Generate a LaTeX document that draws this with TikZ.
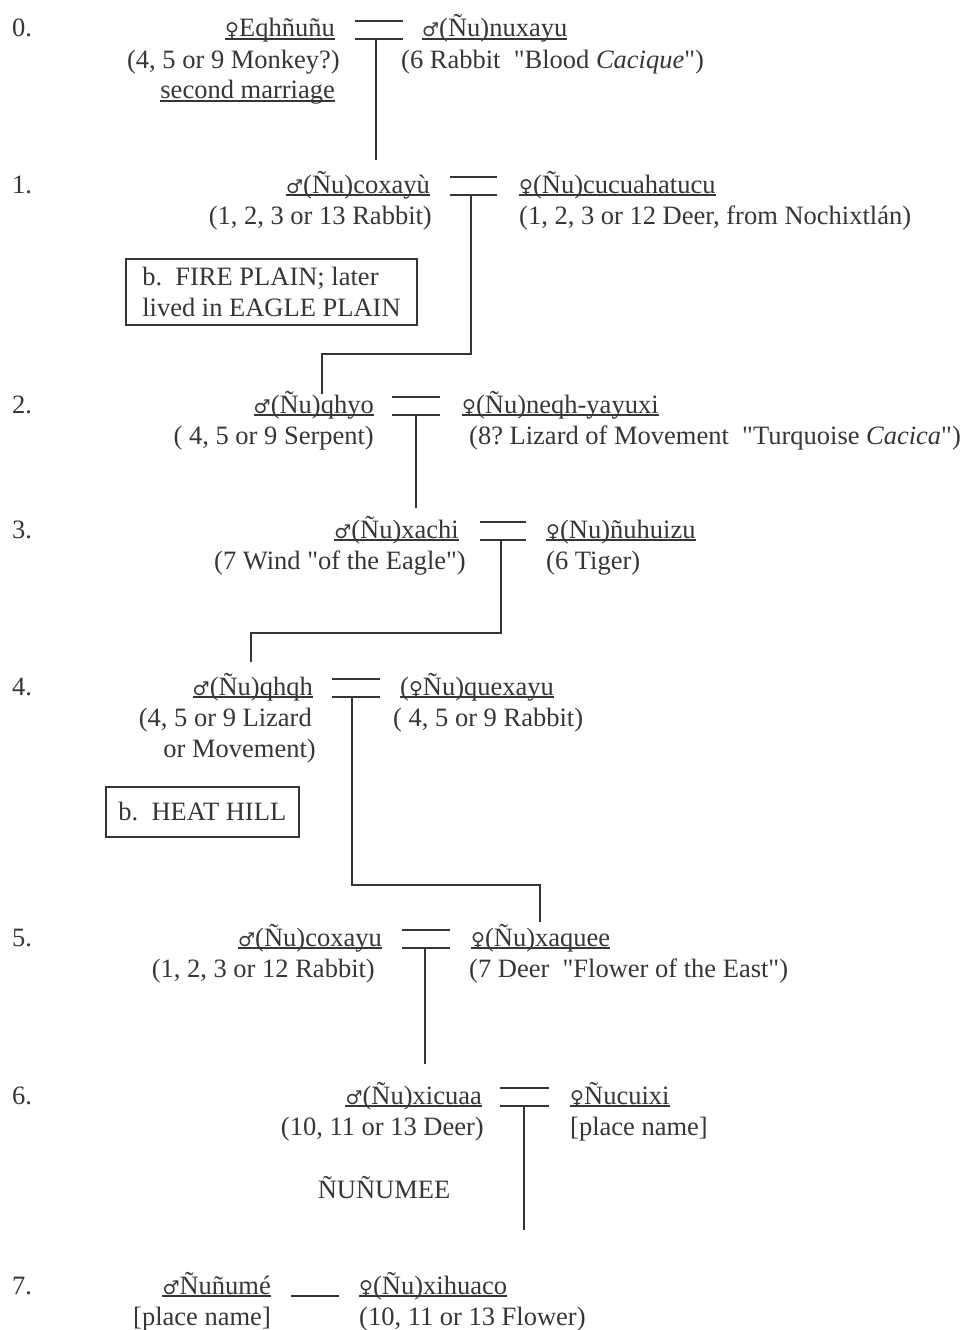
\documentclass[tikz,border=0pt]{standalone}
\usepackage{fontspec}
\setmainfont{Liberation Serif}
\newfontfamily\symfont{DejaVu Sans}
% plain font instance without the TeX input mapping, for straight double quotes
\font\rawserif="Liberation Serif" at 26.5pt
\definecolor{ink}{HTML}{363636}
\newcommand\fem{{\symfont\fontsize{19}{19}\selectfont ♀}}
\newcommand\mal{{\symfont\fontsize{19}{19}\selectfont ♂}}
\newcommand\dq{{\rawserif\symbol{34}}}
\frenchspacing
% underline below the baseline of a named text node
\newcommand\ulname[1]{\draw[uline] ([yshift=-2pt]#1.base west) -- ([yshift=-2pt]#1.base east);}
% marriage sign: two bars between x #2 and #3 around baseline #4, drop point at x #5
\newcommand\bond[5]{%
  \coordinate (#1a) at (#2,#4-16);
  \coordinate (#1b) at (#3,#4-16);
  \coordinate (#1c) at (#2,#4+2);
  \coordinate (#1d) at (#3,#4+2);
  \coordinate (#1) at (#5,#4+2);
  \draw[lin] (#1a) -- (#1b);
  \draw[lin] (#1c) -- (#1d);
}
\begin{document}
\begin{tikzpicture}[x=1pt,y=-1pt,
  txt/.style={inner sep=0pt, text=ink, font=\fontsize{26.5}{31}\selectfont},
  L/.style={txt, anchor=base east},
  R/.style={txt, anchor=base west},
  num/.style={txt, anchor=base west},
  lin/.style={draw=ink, line width=2.2pt},
  uline/.style={draw=ink, line width=1.1pt},
  placebox/.style={txt, draw=ink, line width=1.6pt, align=left}]
\useasboundingbox (0,0) rectangle (964,1330);
\fill[white] (0,0) rectangle (964,1330);

% generation numbers
\node[num] (g0) at (12,37) {0.};
\node[num] (g1) at (12,193) {1.};
\node[num] (g2) at (12,413) {2.};
\node[num] (g3) at (12,538) {3.};
\node[num] (g4) at (12,695) {4.};
\node[num] (g5) at (12,946) {5.};
\node[num] (g6) at (12,1104) {6.};
\node[num] (g7) at (12,1294) {7.};

% generation 0
\node[L] (a0) at (335,37) {\fem Eqhñuñu};
\node[L] (a0x) at (340,68) {(4, 5 or 9 Monkey?)};
\node[L] (a0y) at (335,99) {second marriage};
\node[R] (b0) at (422,37) {\mal(Ñu)nuxayu};
\node[R] (b0x) at (401,68) {(6 Rabbit~ \dq Blood \textit{Cacique}\dq)};
\ulname{a0} \ulname{a0y} \ulname{b0}
\bond{q0}{355}{403}{37}{376}

% generation 1
\node[L] (a1) at (430,193) {\mal(Ñu)coxayù};
\node[L] (a1x) at (432,224) {(1, 2, 3 or 13 Rabbit)};
\node[R] (b1) at (519,193) {\fem(Ñu)cucuahatucu};
\node[R] (b1x) at (519,224) {(1, 2, 3 or 12 Deer, from Nochixtlán)};
\ulname{a1} \ulname{b1}
\bond{q1}{450}{497}{193}{471}
\node[placebox, inner xsep=16.5pt, minimum height=66pt, anchor=north west] (p1) at (125,258)
  {b.~ FIRE PLAIN; later\\lived in EAGLE PLAIN};

% generation 2
\node[L] (a2) at (374,413) {\mal(Ñu)qhyo};
\node[L] (a2x) at (374,444) {( 4, 5 or 9 Serpent)};
\node[R] (b2) at (462,413) {\fem(Ñu)neqh-yayuxi};
\node[R] (b2x) at (469,444) {(8? Lizard of Movement~ \dq Turquoise \textit{Cacica}\dq)};
\ulname{a2} \ulname{b2}
\bond{q2}{392}{440}{413}{416}

% generation 3
\node[L] (a3) at (459,538) {\mal(Ñu)xachi};
\node[L] (a3x) at (466,569) {(7 Wind \dq of the Eagle\dq)};
\node[R] (b3) at (546,538) {\fem(Nu)ñuhuizu};
\node[R] (b3x) at (546,569) {(6 Tiger)};
\ulname{a3} \ulname{b3}
\bond{q3}{480}{526}{538}{501}

% generation 4
\node[L] (a4) at (313,695) {\mal(Ñu)qhqh};
\node[L] (a4x) at (312,726) {(4, 5 or 9 Lizard};
\node[L] (a4y) at (316,757) {or Movement)};
\node[R] (b4) at (400,695) {(\fem Ñu)quexayu};
\node[R] (b4x) at (393,726) {( 4, 5 or 9 Rabbit)};
\ulname{a4} \ulname{b4}
\bond{q4}{332}{380}{695}{352}
\node[placebox, inner xsep=11pt, minimum width=193pt, minimum height=50pt, anchor=north west] (p4) at (105,786)
  {b.~ HEAT HILL};

% generation 5
\node[L] (a5) at (382,946) {\mal(Ñu)coxayu};
\node[L] (a5x) at (375,977) {(1, 2, 3 or 12 Rabbit)};
\node[R] (b5) at (471,946) {\fem(Ñu)xaquee};
\node[R] (b5x) at (469,977) {(7 Deer~ \dq Flower of the East\dq)};
\ulname{a5} \ulname{b5}
\bond{q5}{402}{450}{946}{425}

% generation 6
\node[L] (a6) at (482,1104) {\mal(Ñu)xicuaa};
\node[L] (a6x) at (484,1135) {(10, 11 or 13 Deer)};
\node[R] (b6) at (570,1104) {\fem Ñucuixi};
\node[R] (b6x) at (570,1135) {[place name]};
\ulname{a6} \ulname{b6}
\bond{q6}{500}{549}{1104}{524}
\node[txt, anchor=base] (t6) at (384,1198) {ÑUÑUMEE};

% generation 7
\node[L] (a7) at (271,1294) {\mal Ñuñumé};
\node[L] (a7x) at (271,1325) {[place name]};
\node[R] (b7) at (359,1294) {\fem(Ñu)xihuaco};
\node[R] (b7x) at (359,1325) {(10, 11 or 13 Flower)};
\ulname{a7} \ulname{b7}
\coordinate (q7a) at (291,1296);
\coordinate (q7b) at (339,1296);
\draw[lin] (q7a) -- (q7b);

% lines of descent
\coordinate (k1) at (376,160);
\coordinate (j2) at (322,354);
\coordinate (k2) at (322,394);
\coordinate (k3) at (416,508);
\coordinate (j4) at (251,633);
\coordinate (k4) at (251,662);
\coordinate (j5) at (540,885);
\coordinate (k5) at (540,922);
\coordinate (k6) at (425,1064);
\coordinate (k7) at (524,1230);
\draw[lin] (q0) -- (k1);
\draw[lin] (q1) |- (j2) -- (k2);
\draw[lin] (q2) -- (k3);
\draw[lin] (q3) |- (j4) -- (k4);
\draw[lin] (q4) |- (j5) -- (k5);
\draw[lin] (q5) -- (k6);
\draw[lin] (q6) -- (k7);
\end{tikzpicture}
\end{document}
